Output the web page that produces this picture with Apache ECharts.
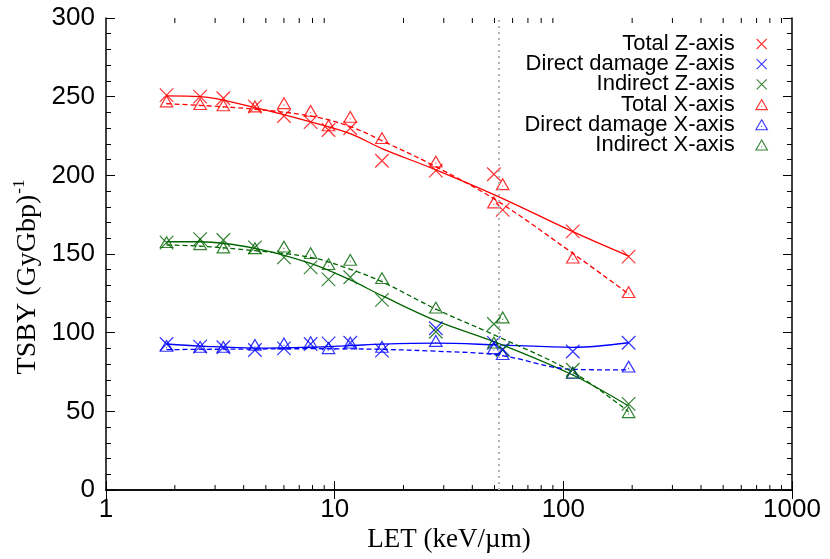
<!DOCTYPE html>
<html>
<head>
<meta charset="utf-8">
<script src="https://cdn.jsdelivr.net/npm/echarts@6/dist/echarts.min.js"></script>
<style>html,body{margin:0;padding:0;background:#fff}#c{width:830px;height:559px}</style>
</head>
<body>
<div id="c"></div>
<script>
// ---- data ----
const LET = [1.84, 2.58, 3.26, 4.48, 6.0, 7.85, 9.4, 11.7, 16.1, 27.7, 49.7, 54.3, 110, 193];
const totalZ    = [251, 250, 249, 243.7, 237.7, 233.8, 228.8, 229.9, 209.3, 203, 200.7, 178, 164.4, 148.3];
const directZ   = [92.8, 91.1, 90.7, 89, 90, 92.8, 93.2, 93.6, 88.6, 102.8, 93.5, 89.5, 88, 93.6];
const indirectZ = [157.2, 159.5, 158.9, 154.2, 147.9, 141.5, 133.9, 135.2, 120.8, 100.6, 105.5, 89, 76.4, 54.7];
const totalX    = [245.8, 244.1, 243.3, 242.6, 244.7, 239.8, 230.6, 236, 222.5, 207.6, 181.6, 193.2, 146.6, 124.6];
const directX   = [90.5, 89.8, 89.8, 91.1, 92, 92.8, 89, 92.5, 89.8, 93.6, 89, 85.2, 73.3, 77.3];
const indirectX = [156.4, 155.1, 153, 152.5, 153.6, 149.4, 142.4, 145.1, 133.5, 114.8, 92.5, 108.5, 73.5, 48.3];

// fitted curves
const curveLET = [1.84, 2.58, 4.48, 7.85, 11.7, 16.1, 27.7, 52, 110, 193];
const fitTotalZ    = [250.5, 250, 243, 234, 226.5, 217, 203.5, 186.5, 164.2, 148.7];
const fitTotalX    = [245.5, 244.5, 242, 237.7, 231, 222, 205.5, 183.3, 150.4, 124.6];
const fitIndirectZ = [157.8, 157.8, 153.6, 144, 133.5, 123.5, 107.6, 93.2, 73.1, 53.4];
const fitIndirectX = [155.7, 155, 152.1, 147.9, 140.3, 132.4, 115, 97.4, 74.8, 49.8];
const fitDirectZ   = [92.8, 91.5, 90.2, 90.8, 91.8, 92.7, 93.3, 92.2, 90.7, 93.6];
const fitDirectX   = [89.2, 89.4, 89.6, 89.8, 89.7, 89.4, 88.2, 85.8, 76.7, 76.3];

const refLineLET = 52;
const xMinorTicks = [2,3,4,5,6,7,8,9,20,30,40,50,60,70,80,90,200,300,400,500,600,700,800,900];
const yMin = 0, yMax = 300;
const seriesNames = ['Total Z-axis','Direct damage Z-axis','Indirect Z-axis','Total X-axis','Direct damage X-axis','Indirect X-axis'];

// ---- styles ----
const RED = '#ff0000', BLUE = '#0000ff', GREEN = '#006400';
const CROSS = 'path://M0,0L10,10M10,0L0,10';
const TRI = 'path://M5,0L10,8.66L0,8.66ZM4.6,5.8L5.4,5.8';
const SANS = 'Liberation Sans', SERIF = 'Liberation Serif';

function pts(xs, ys) { return xs.map((x, i) => [x, ys[i]]); }

function markerSeries(name, ys, color, isCross) {
  return {
    name: name, type: 'scatter', data: pts(LET, ys),
    symbol: isCross ? CROSS : TRI,
    symbolSize: isCross ? 13.5 : [12.5, 10.8],
    symbolOffset: isCross ? [0, 0] : [0, -1.8],
    itemStyle: { color: 'transparent', borderColor: color, borderWidth: 1.2 },
    emphasis: { disabled: true }, z: 3
  };
}
function curveSeries(name, ys, color, dashed) {
  return {
    name: name, type: 'line', data: pts(curveLET, ys), smooth: 0.35,
    symbol: 'none', lineStyle: { color: color, width: 1.3, type: dashed ? [5, 3] : 'solid' },
    emphasis: { disabled: true }, z: 2
  };
}

const series = [
  markerSeries(seriesNames[0], totalZ, RED, true),
  markerSeries(seriesNames[1], directZ, BLUE, true),
  markerSeries(seriesNames[2], indirectZ, GREEN, true),
  markerSeries(seriesNames[3], totalX, RED, false),
  markerSeries(seriesNames[4], directX, BLUE, false),
  markerSeries(seriesNames[5], indirectX, GREEN, false),
  curveSeries('fitTotalZ', fitTotalZ, RED, false),
  curveSeries('fitDirectZ', fitDirectZ, BLUE, false),
  curveSeries('fitIndirectZ', fitIndirectZ, GREEN, false),
  curveSeries('fitTotalX', fitTotalX, RED, true),
  curveSeries('fitDirectX', fitDirectX, BLUE, true),
  curveSeries('fitIndirectX', fitIndirectX, GREEN, true),
  {
    // minor log ticks on bottom and top frame edges
    name: 'minorTicks', type: 'custom', silent: true, clip: false, z: 5,
    data: xMinorTicks.map(v => [v, yMin]),
    renderItem: function (params, api) {
      const v = api.value(0);
      const b = api.coord([v, yMin]);
      const t = api.coord([v, yMax]);
      return { type: 'group', children: [
        { type: 'line', shape: { x1: b[0], y1: b[1], x2: b[0], y2: b[1] - 5 }, style: { stroke: '#000', lineWidth: 1 } },
        { type: 'line', shape: { x1: t[0], y1: t[1], x2: t[0], y2: t[1] + 5 }, style: { stroke: '#000', lineWidth: 1 } }
      ] };
    }
  }
];
series[6].markLine = {
  silent: true, symbol: 'none', label: { show: false },
  lineStyle: { color: '#b4b4b4', width: 2, type: [2, 4] },
  data: [{ xAxis: refLineLET }]
};

const legendColors = [RED, BLUE, GREEN, RED, BLUE, GREEN];
const legendData = seriesNames.map((n, i) => ({
  name: n, icon: i < 3 ? CROSS : TRI,
  itemStyle: { color: 'transparent', borderColor: legendColors[i], borderWidth: 1.1 }
}));

function xAxisDef(pos) {
  return {
    type: 'log', logBase: 10, min: 1, max: 1000, position: pos,
    axisLine: { show: true, lineStyle: { color: '#000', width: 1.5 } },
    axisTick: { show: true, inside: true, length: 9, lineStyle: { color: '#000', width: 1 } },
    axisLabel: { show: pos === 'bottom', fontSize: 26, fontFamily: SANS, color: '#000', margin: 7,
                 formatter: function (v) { return String(Math.round(v)); } },
    splitLine: { show: false }
  };
}
function yAxisDef(pos) {
  return {
    type: 'value', min: yMin, max: yMax, interval: 50, position: pos,
    axisLine: { show: true, lineStyle: { color: '#000', width: 1.5 } },
    axisTick: { show: true, inside: true, length: 9, lineStyle: { color: '#000', width: 1 } },
    minorTick: { show: true, splitNumber: 5, length: 5, lineStyle: { color: '#000', width: 1 } },
    axisLabel: { show: pos === 'left', fontSize: 26, fontFamily: SANS, color: '#000', margin: 11 },
    splitLine: { show: false }, minorSplitLine: { show: false }
  };
}

const chart = echarts.init(document.getElementById('c'), null, { renderer: 'canvas' });
chart.setOption({
  animation: false,
  backgroundColor: '#fff',
  grid: { left: 106, right: 38, top: 18, bottom: 69, containLabel: false },
  xAxis: [xAxisDef('bottom'), xAxisDef('top')],
  yAxis: [yAxisDef('left'), yAxisDef('right')],
  legend: {
    data: legendData, orient: 'vertical', align: 'right', right: 57, top: 28,
    itemWidth: 44, itemHeight: 10, itemGap: -1.8, selectedMode: false,
    textStyle: { fontSize: 22, fontFamily: SANS, color: '#000', lineHeight: 19.2 }
  },
  graphic: [
    { type: 'text', x: 449, y: 540, silent: true,
      style: { text: 'LET (keV/\u00b5m)', font: '27px "' + SERIF + '"', fill: '#000', align: 'center', verticalAlign: 'middle' } },
    { type: 'text', x: 28, y: 277, rotation: Math.PI / 2, silent: true,
      style: { text: 'TSBY (GyGbp){sup|-1}', fontFamily: SERIF, fontSize: 28, fill: '#000', align: 'center', verticalAlign: 'middle',
        rich: { sup: { fontFamily: SERIF, fontSize: 17, fill: '#000', padding: [0, 0, 16, 1] } } } }
  ],
  series: series
});
</script>
</body>
</html>
